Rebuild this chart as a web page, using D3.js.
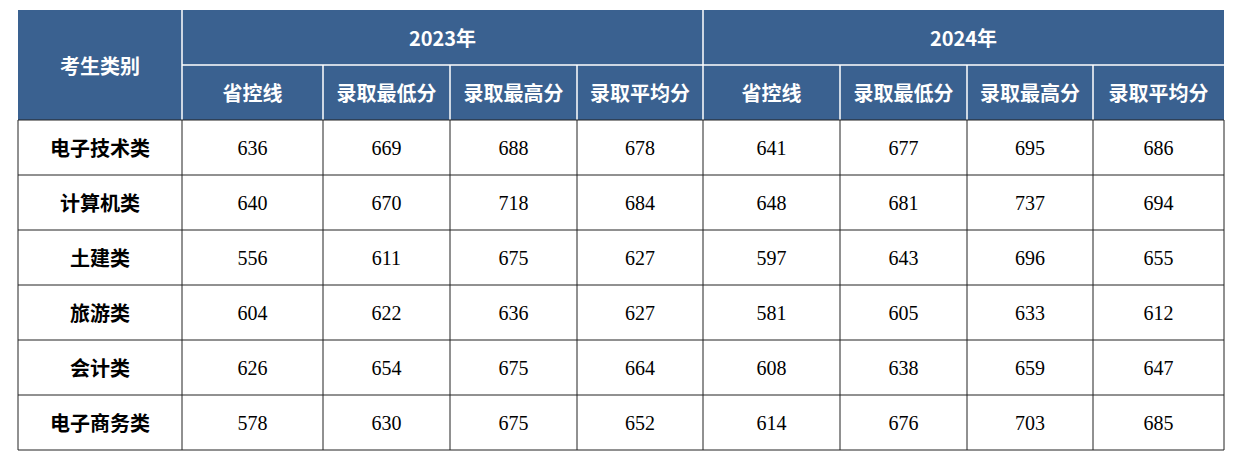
<!DOCTYPE html><html><head><meta charset="utf-8"><script src="https://d3js.org/d3.v7.min.js"></script>
<style>body{margin:0;background:#fff}</style></head><body><svg id="c" width="1234" height="465"></svg>
<script>
const years=["2023年","2024年"];
const subCols=["省控线","录取最低分","录取最高分","录取平均分"];
const categories=["电子技术类","计算机类","土建类","旅游类","会计类","电子商务类"];
const values2023=[[636,669,688,678],[640,670,718,684],[556,611,675,627],[604,622,636,627],[626,654,675,664],[578,630,675,652]];
const values2024=[[641,677,695,686],[648,681,737,694],[597,643,696,655],[581,605,633,612],[608,638,659,647],[614,676,703,685]];
const colWidths=[164,141,127,127,126,137,127,126,131];
const svg=d3.select("#c");
const edges=[0];colWidths.forEach(w=>edges.push(edges[edges.length-1]+w));
const x=d3.scaleLinear().domain([0,edges[edges.length-1]]).range([18,1224]);
const colX=i=>x(edges[i]);
const y=d3.scaleLinear().domain([0,8]).range([10,450]);
const hdr="#3a6190",sans="'Noto Sans CJK SC',sans-serif",serif="'Liberation Serif','Times New Roman',serif";
// header bg
svg.append("rect").attr("x",x(0)).attr("y",y(0)).attr("width",x(edges[9])-x(0)).attr("height",y(2)-y(0)).attr("fill",hdr);
// header lines
const hl=svg.append("g").attr("stroke","#fff").attr("stroke-width",1.5);
hl.append("line").attr("x1",colX(1)).attr("x2",colX(9)).attr("y1",y(1)).attr("y2",y(1));
[1,5].forEach(i=>hl.append("line").attr("x1",colX(i)).attr("x2",colX(i)).attr("y1",y(0)).attr("y2",y(2)));
[2,3,4,6,7,8].forEach(i=>hl.append("line").attr("x1",colX(i)).attr("x2",colX(i)).attr("y1",y(1)).attr("y2",y(2)));
const t=(tx,ty,s,f,w,c,fs)=>svg.append("text").attr("x",tx).attr("y",ty).attr("text-anchor","middle").attr("dominant-baseline","central").attr("font-family",f).attr("font-weight",w).attr("fill",c).attr("font-size",fs).text(s);
t((colX(0)+colX(1))/2,y(1),"考生类别",sans,"bold","#fff",20);
years.forEach((yr,k)=>{t((colX(1+4*k)+colX(5+4*k))/2,(y(0)+y(1))/2,yr,sans,"bold","#fff",20);
 subCols.forEach((s,j)=>t((colX(1+4*k+j)+colX(2+4*k+j))/2,(y(1)+y(2))/2,s,sans,"bold","#fff",20));});
// body
const g=svg.append("g").attr("stroke","#222").attr("stroke-width",1);
for(let r=2;r<=8;r++)g.append("line").attr("x1",x(0)).attr("x2",colX(9)).attr("y1",y(r)).attr("y2",y(r));
for(let i=0;i<=9;i++)g.append("line").attr("x1",colX(i)).attr("x2",colX(i)).attr("y1",y(2)).attr("y2",y(8));
categories.forEach((c,r)=>{const cy=(y(2+r)+y(3+r))/2;
 t((colX(0)+colX(1))/2,cy,c,sans,"bold","#000",20);
 [values2023[r],values2024[r]].forEach((vals,k)=>vals.forEach((v,j)=>t((colX(1+4*k+j)+colX(2+4*k+j))/2,cy,v,serif,"normal","#000",20)));});
</script></body></html>
